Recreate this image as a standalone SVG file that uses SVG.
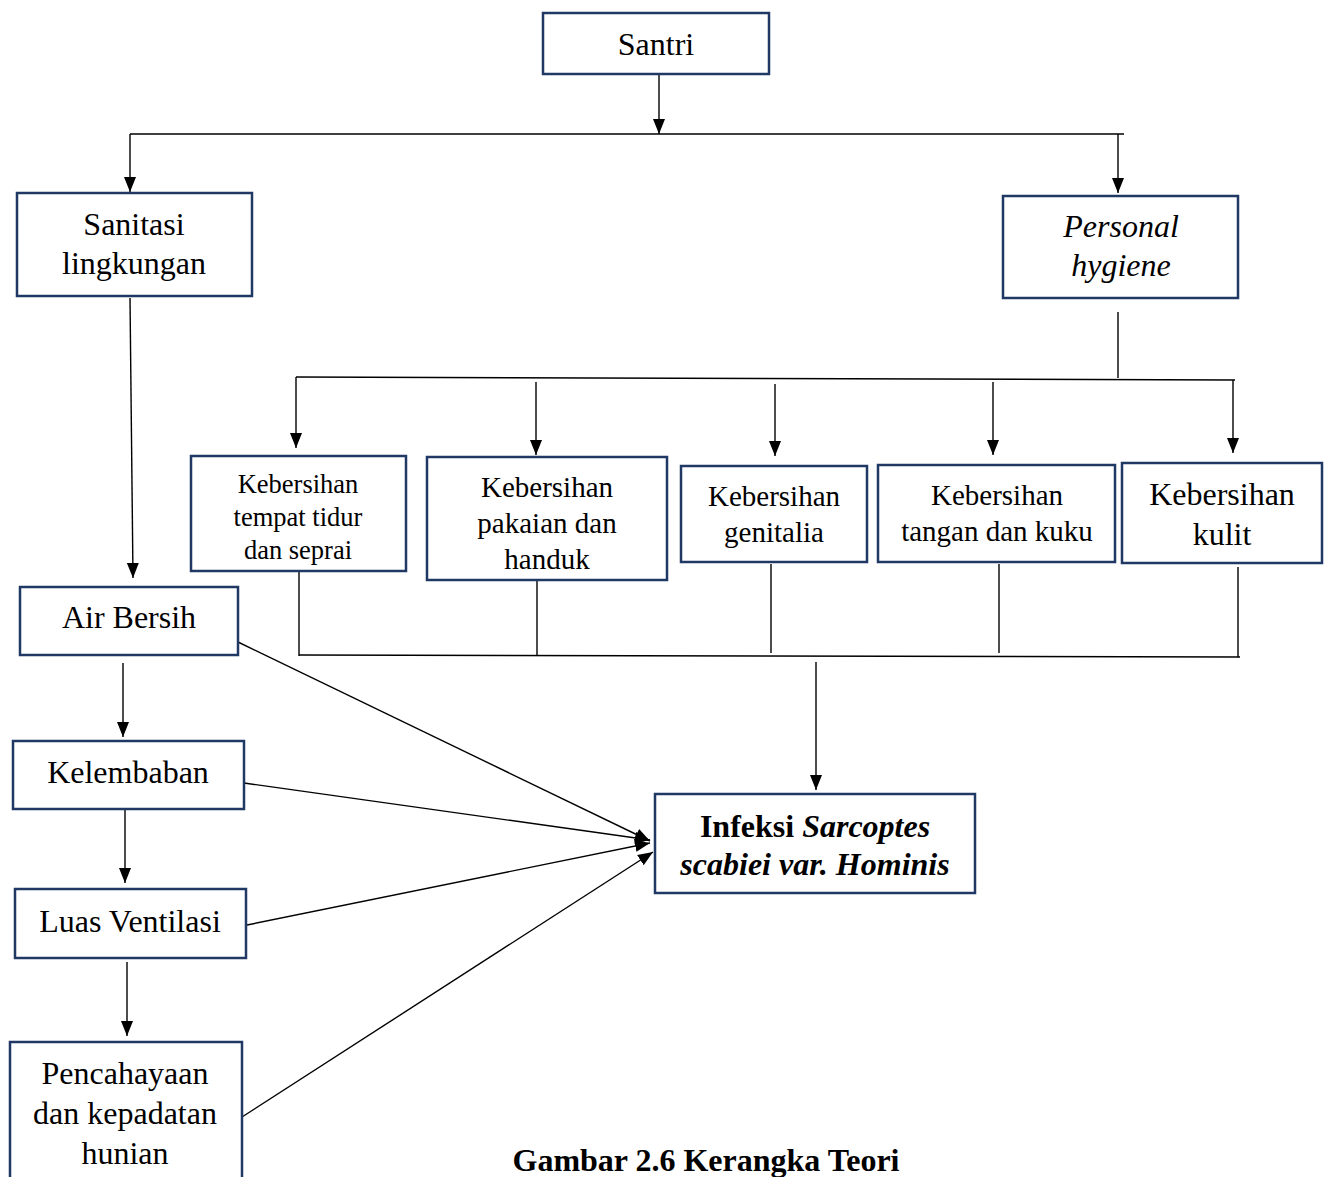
<svg xmlns="http://www.w3.org/2000/svg" width="1330" height="1177" viewBox="0 0 1330 1177">
<defs>
<marker id="ah" markerUnits="userSpaceOnUse" markerWidth="16" markerHeight="16" viewBox="0 0 16 16" refX="15" refY="8" orient="auto">
<path d="M0,2 L15,8 L0,14 Z" fill="#000"/>
</marker>
<style>
.box{fill:#fff;stroke:#1f3864;stroke-width:2.5}
.t{font-family:"Liberation Serif","Times New Roman",serif;font-size:32px;fill:#000;text-anchor:middle}
.s1{font-size:26.5px}
.s2{font-size:29px}
.b{font-weight:bold}
.i{font-style:italic}
.ln{stroke:#000;stroke-width:1.4;fill:none}
.ar{stroke:#000;stroke-width:1.4;fill:none;marker-end:url(#ah)}
</style>
</defs>
<rect width="1330" height="1177" fill="#fff"/>
<g id="connectors">
<line class="ar" x1="659" y1="74" x2="659" y2="134"/>
<line class="ln" x1="130" y1="134" x2="1124" y2="134"/>
<line class="ar" x1="130" y1="134" x2="130" y2="192"/>
<line class="ar" x1="1118" y1="134" x2="1118" y2="193"/>
<line class="ln" x1="1118" y1="312" x2="1118" y2="378"/>
<line class="ln" x1="296" y1="377" x2="1235" y2="380"/>
<line class="ar" x1="296" y1="377" x2="296" y2="448"/>
<line class="ar" x1="536" y1="382" x2="536" y2="455"/>
<line class="ar" x1="775" y1="384" x2="775" y2="456"/>
<line class="ar" x1="993" y1="382" x2="993" y2="455"/>
<line class="ar" x1="1233" y1="380" x2="1233" y2="453"/>
<line class="ln" x1="299" y1="567" x2="299" y2="656"/>
<line class="ln" x1="537" y1="568" x2="537" y2="656"/>
<line class="ln" x1="771" y1="564" x2="771" y2="653"/>
<line class="ln" x1="999" y1="564" x2="999" y2="653"/>
<line class="ln" x1="1238" y1="567" x2="1238" y2="657"/>
<line class="ln" x1="299" y1="655" x2="1240" y2="657"/>
<line class="ar" x1="816" y1="662" x2="816" y2="790"/>
<line class="ar" x1="130" y1="298" x2="133" y2="578"/>
<line class="ar" x1="123" y1="663" x2="123" y2="737"/>
<line class="ar" x1="125" y1="809" x2="125" y2="883"/>
<line class="ar" x1="127" y1="962" x2="127" y2="1036"/>
<line class="ar" x1="238" y1="642" x2="650" y2="841"/>
<line class="ar" x1="244" y1="783" x2="650" y2="840"/>
<line class="ar" x1="247" y1="925" x2="650" y2="843"/>
<line class="ar" x1="242" y1="1117" x2="653" y2="852"/>
</g>
<g id="santri"><rect class="box" x="543" y="13" width="226" height="61"/><text class="t" x="656" y="55">Santri</text></g>
<g id="sanitasi"><rect class="box" x="17" y="193" width="235" height="103"/><text class="t" x="134" y="235">Sanitasi</text><text class="t" x="134" y="274">lingkungan</text></g>
<g id="personal"><rect class="box" x="1003" y="196" width="235" height="102"/><text class="t i" x="1121" y="237">Personal</text><text class="t i" x="1121" y="276">hygiene</text></g>
<g id="k-tidur"><rect class="box" x="191" y="456" width="215" height="115"/><text class="t s1" x="298" y="493">Kebersihan</text><text class="t s1" x="298" y="526">tempat tidur</text><text class="t s1" x="298" y="559">dan seprai</text></g>
<g id="k-pakaian"><rect class="box" x="427" y="457" width="240" height="123"/><text class="t s2" x="547" y="497">Kebersihan</text><text class="t s2" x="547" y="533">pakaian dan</text><text class="t s2" x="547" y="569">handuk</text></g>
<g id="k-genitalia"><rect class="box" x="681" y="466" width="186" height="96"/><text class="t s2" x="774" y="506">Kebersihan</text><text class="t s2" x="774" y="542">genitalia</text></g>
<g id="k-tangan"><rect class="box" x="878" y="465" width="237" height="97"/><text class="t s2" x="997" y="505">Kebersihan</text><text class="t s2" x="997" y="541">tangan dan kuku</text></g>
<g id="k-kulit"><rect class="box" x="1122" y="463" width="200" height="100"/><text class="t" x="1222" y="505">Kebersihan</text><text class="t" x="1222" y="545">kulit</text></g>
<g id="air"><rect class="box" x="20" y="587" width="218" height="68"/><text class="t" x="129" y="628">Air Bersih</text></g>
<g id="kelembaban"><rect class="box" x="13" y="741" width="231" height="68"/><text class="t" x="128" y="783">Kelembaban</text></g>
<g id="ventilasi"><rect class="box" x="15" y="889" width="231" height="69"/><text class="t" x="130" y="932">Luas Ventilasi</text></g>
<g id="pencahayaan"><rect class="box" x="10" y="1042" width="232" height="150"/><text class="t" x="125" y="1084">Pencahayaan</text><text class="t" x="125" y="1124">dan kepadatan</text><text class="t" x="125" y="1164">hunian</text></g>
<g id="infeksi"><rect class="box" x="655" y="794" width="320" height="99"/><text class="t b" x="815" y="837">Infeksi <tspan class="i">Sarcoptes</tspan></text><text class="t b i" x="815" y="875">scabiei var. Hominis</text></g>
<text class="t b" x="706" y="1171">Gambar 2.6 Kerangka Teori</text>
</svg>
